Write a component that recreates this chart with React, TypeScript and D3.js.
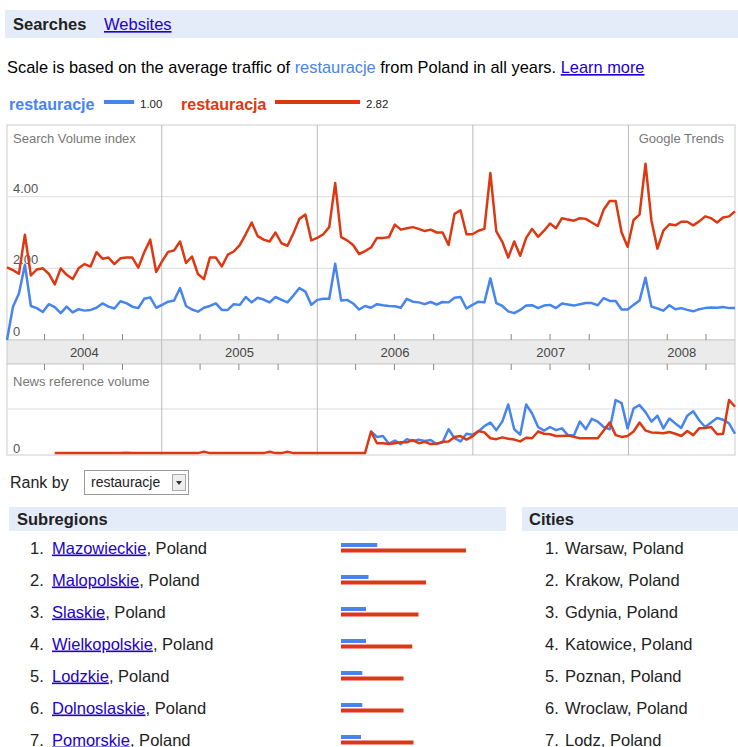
import React from "react";
import * as d3 from "d3";

// two-week samples, first one on 2004-01-04
const START = new Date(2004, 0, 4);
const END = new Date(2008, 8, 7);
const STEP_DAYS = 14;

const years = [2004, 2005, 2006, 2007, 2008];
const searchTicks = [0, 2, 4];
const searchTickLabels = ["0", "2.00", "4.00"];

// Search Volume index
const restauracjaSearch = [
  2.03, 1.95, 1.85, 2.94, 1.8, 1.97, 2.0, 1.85, 1.55, 2.0, 1.82, 1.7, 2.0, 2.12, 2.05, 2.45,
  2.27, 2.3, 2.12, 2.28, 2.3, 2.3, 2.02, 2.45, 2.8, 1.9, 2.2, 2.46, 2.5, 2.75, 2.15, 2.33,
  1.84, 1.7, 2.3, 2.3, 2.05, 2.38, 2.47, 2.65, 2.95, 3.28, 2.9, 2.8, 2.75, 3.0, 2.7, 2.63,
  2.98, 3.38, 3.5, 2.78, 2.85, 2.95, 3.15, 4.38, 2.87, 2.78, 2.65, 2.4, 2.48, 2.58, 2.85, 2.85,
  2.87, 3.22, 3.08, 3.12, 3.15, 3.1, 3.04, 3.08, 3.0, 3.0, 2.65, 3.52, 3.62, 2.95, 2.95, 3.05,
  3.1, 4.66, 3.03, 2.74, 2.3, 2.75, 2.35, 2.85, 3.1, 2.88, 3.05, 3.25, 3.12, 3.4, 3.36, 3.33,
  3.4, 3.38, 3.28, 3.18, 3.64, 3.88, 3.88, 3.0, 2.6, 3.35, 3.5, 4.92, 3.33, 2.55, 3.05, 3.23,
  3.2, 3.3, 3.3, 3.2, 3.31, 3.45, 3.4, 3.28, 3.42, 3.45, 3.59,
];
const restauracjeSearch = [
  0, 0.93, 1.3, 2.1, 0.95, 0.89, 0.78, 1.0, 0.92, 0.75, 0.93, 0.77, 0.86, 0.82, 0.84, 0.9,
  1.02, 0.93, 0.88, 1.08, 1.03, 0.93, 0.89, 1.15, 1.19, 0.9, 0.98, 1.07, 1.1, 1.45, 0.95, 0.85,
  0.79, 0.9, 0.95, 1.02, 0.84, 0.84, 1.0, 0.98, 1.2, 1.05, 1.18, 1.13, 1.05, 1.2, 1.12, 1.05,
  1.24, 1.45, 1.35, 0.98, 1.12, 1.15, 1.15, 2.13, 1.1, 1.12, 1.02, 0.85, 0.95, 0.9, 1.0, 0.97,
  0.95, 0.94, 0.9, 1.15, 1.07, 1.05, 1.0, 1.06, 0.99, 1.06, 1.05, 1.18, 1.2, 0.88, 0.98, 1.07,
  1.05, 1.72, 1.03, 0.95, 0.8, 0.75, 0.84, 0.96, 0.97, 0.89, 0.96, 0.98, 0.89, 1.02, 0.99, 0.96,
  1.0, 1.03, 1.03, 0.97, 1.17, 1.09, 1.09, 0.85, 0.85, 0.98, 1.1, 1.74, 0.93, 0.88, 0.82, 0.97,
  0.86, 0.89, 0.84, 0.8, 0.86, 0.89, 0.91, 0.9, 0.92, 0.89, 0.89,
];

// News reference volume (relative), series start at these sample indices
const NEWS_RED_FROM = 8;
const NEWS_BLUE_FROM = 61;
const restauracjaNews = [
  0.02, 0.02, 0.02, 0.02, 0.02, 0.02, 0.02, 0.02, 0.02, 0.02, 0.02, 0.02, 0.03, 0.02, 0.02, 0.02,
  0.02, 0.02, 0.02, 0.02, 0.02, 0.02, 0.02, 0.02, 0.02, 0.05, 0.02, 0.02, 0.02, 0.02, 0.02, 0.02,
  0.02, 0.02, 0.02, 0.02, 0.05, 0.02, 0.02, 0.05, 0.02, 0.02, 0.02, 0.02, 0.02, 0.02, 0.02, 0.02,
  0.02, 0.02, 0.02, 0.02, 0.02,
  0.5, 0.24, 0.24, 0.22, 0.24, 0.26, 0.26, 0.31, 0.24, 0.27, 0.22, 0.23, 0.27, 0.28, 0.38, 0.4,
  0.32, 0.39, 0.51, 0.48, 0.35, 0.33, 0.37, 0.34, 0.32, 0.28, 0.36, 0.35, 0.5, 0.45, 0.44, 0.4,
  0.4, 0.41, 0.38, 0.35, 0.35, 0.35, 0.35, 0.52, 0.7, 0.42, 0.38, 0.4, 0.5, 0.7, 0.52, 0.48,
  0.47, 0.46, 0.49, 0.45, 0.4, 0.51, 0.42, 0.57, 0.58, 0.6, 0.44, 0.45, 1.2, 1.05,
];
const restauracjeNews = [
  0.5, 0.38, 0.4, 0.23, 0.3, 0.22, 0.33, 0.29, 0.32, 0.29, 0.31, 0.22, 0.26, 0.55, 0.35, 0.28,
  0.45, 0.43, 0.5, 0.62, 0.7, 0.53, 0.72, 1.1, 0.55, 0.43, 1.1, 0.9, 0.6, 0.52, 0.6, 0.53,
  0.57, 0.42, 0.41, 0.72, 0.55, 0.78, 0.72, 0.6, 0.55, 1.2, 1.13, 0.57, 1.01, 1.09, 0.93, 0.72,
  0.85, 0.57, 0.79, 0.68, 0.58, 0.85, 0.95, 0.75, 0.6, 0.7, 0.8, 0.76, 0.68, 0.45,
];

const subregions = ["Mazowieckie", "Malopolskie", "Slaskie", "Wielkopolskie", "Lodzkie", "Dolnoslaskie", "Pomorskie"];
const subregionRestauracje = [29, 22, 20, 20, 17, 17, 16];
const subregionRestauracja = [100, 68, 62, 57, 50, 50, 58];
const cities = ["Warsaw", "Krakow", "Gdynia", "Katowice", "Poznan", "Wroclaw", "Lodz"];

const BLUE = "#4684ee";
const RED = "#dc3912";
const LINK = "#2200cc";
const FONT = "'Liberation Sans', Arial, Helvetica, sans-serif";

export default function App() {
  const W = 738, H = 747;
  const left = 7, right = 735;
  const plotTop = 125, plotBottom = 340, barBottom = 364, newsBottom = 455;

  const x = d3.scaleTime().domain([START, END]).range([left, right]);
  const dateAt = (i: number) => d3.timeDay.offset(START, i * STEP_DAYS);
  const y = d3.scaleLinear().domain([0, 6]).range([plotBottom, plotTop]);
  const yNews = d3.scaleLinear().domain([0, 2]).range([454, barBottom]);

  const searchLine = d3.line<number>().x((_, i) => x(dateAt(i))).y((d) => y(d));
  const newsLine = (from: number) =>
    d3.line<number>().x((_, i) => x(dateAt(i + from))).y((d) => yNews(d));

  const yearStarts = years.slice(1).map((yr) => new Date(yr, 0, 1));
  const quarterTicks = d3.timeMonth.every(3)!.range(START, END).filter((d) => d.getMonth() !== 0);

  const legendScale = d3.scaleLinear().domain([0, 2.82]).range([0, 85]);
  const barScale = d3.scaleLinear().domain([0, 100]).range([0, 125]);
  const rowY = d3.scaleLinear().domain([0, 6]).range([548, 740]);

  return (
    <svg width={W} height={H} style={{ position: "absolute", left: 0, top: 0, background: "#fff" }} fontFamily={FONT}>
      {/* tabs bar */}
      <rect x={5} y={10} width={733} height={28} fill="#e5ecf9" />
      <text x={13} y={30} fontSize={16.5} fontWeight="bold" fill="#222">Searches</text>
      <text x={104} y={30} fontSize={16.5} fill={LINK} textDecoration="underline">Websites</text>

      <text x={7} y={73} fontSize={16.4} fill="#000">
        Scale is based on the average traffic of <tspan fill={BLUE}>restauracje</tspan> from Poland in all years.{" "}
        <tspan fill={LINK} textDecoration="underline">Learn more</tspan>
      </text>

      {/* legend */}
      <text x={9} y={110} fontSize={16} fontWeight="bold" fill={BLUE}>restauracje</text>
      <rect x={104} y={100} width={legendScale(1.0)} height={4} fill={BLUE} />
      <text x={140} y={108} fontSize={11.5} fill="#222">1.00</text>
      <text x={181} y={110} fontSize={16} fontWeight="bold" fill={RED}>restauracja</text>
      <rect x={275} y={100} width={legendScale(2.82)} height={4} fill={RED} />
      <text x={366} y={108} fontSize={11.5} fill="#222">2.82</text>

      {/* main chart frame */}
      <rect x={left} y={plotTop} width={right - left} height={plotBottom - plotTop} fill="#fff" stroke="#ccc" />
      {searchTicks.slice(1).map((t) => (
        <line key={t} x1={left} x2={right} y1={y(t)} y2={y(t)} stroke="#ddd" />
      ))}
      {searchTicks.map((t, i) => (
        <text key={t} x={13} y={y(t) - 4} fontSize={13} fill="#555">{searchTickLabels[i]}</text>
      ))}
      <text x={13} y={143} fontSize={13} fill="#777">Search Volume index</text>
      <text x={724} y={143} fontSize={13} fill="#777" textAnchor="end">Google Trends</text>

      {/* year bar */}
      <rect x={left} y={plotBottom} width={right - left} height={barBottom - plotBottom} fill="#ebebeb" stroke="#ccc" />
      {years.map((yr) => {
        const a = Math.max(x(new Date(yr, 0, 1)), left);
        const b = Math.min(x(new Date(yr + 1, 0, 1)), right);
        return (
          <text key={yr} x={(a + b) / 2} y={357} fontSize={13} fill="#444" textAnchor="middle">{yr}</text>
        );
      })}

      {/* news chart frame */}
      <rect x={left} y={barBottom} width={right - left} height={newsBottom - barBottom} fill="#fff" stroke="#ccc" />
      <line x1={left} x2={right} y1={yNews(1)} y2={yNews(1)} stroke="#ddd" />
      <text x={13} y={386} fontSize={13} fill="#777">News reference volume</text>
      <text x={13} y={453} fontSize={13} fill="#555">0</text>

      {/* dividers and ticks */}
      {yearStarts.map((d, i) => (
        <line key={i} x1={x(d)} x2={x(d)} y1={plotTop} y2={newsBottom} stroke="#bbb" />
      ))}
      {quarterTicks.map((d, i) => (
        <g key={i} stroke="#888">
          <line x1={x(d)} x2={x(d)} y1={plotBottom - 6} y2={plotBottom} />
          <line x1={x(d)} x2={x(d)} y1={barBottom} y2={barBottom + 6} />
        </g>
      ))}

      {/* series */}
      <g fill="none" strokeWidth={2.5} strokeLinejoin="round">
        <path d={searchLine(restauracjaSearch) ?? ""} stroke={RED} />
        <path d={searchLine(restauracjeSearch) ?? ""} stroke={BLUE} />
        <path d={newsLine(NEWS_BLUE_FROM)(restauracjeNews) ?? ""} stroke={BLUE} />
        <path d={newsLine(NEWS_RED_FROM)(restauracjaNews) ?? ""} stroke={RED} />
      </g>

      {/* rank by */}
      <text x={10} y={488} fontSize={16} fill="#222">Rank by</text>
      <rect x={84.5} y={470.5} width={104} height={24} fill="#fff" stroke="#999" />
      <text x={91} y={487} fontSize={14} fill="#222">restauracje</text>
      <rect x={172.5} y={474.5} width={13} height={16} fill="#eee" stroke="#aaa" />
      <path d="M176,481 L182,481 L179,485 Z" fill="#333" />

      {/* tables */}
      <rect x={9} y={507} width={497} height={24} fill="#e5ecf9" />
      <text x={17} y={525} fontSize={16.5} fontWeight="bold" fill="#222">Subregions</text>
      <rect x={522} y={507} width={216} height={24} fill="#e5ecf9" />
      <text x={529} y={525} fontSize={16.5} fontWeight="bold" fill="#222">Cities</text>

      {subregions.map((name, i) => (
        <g key={name}>
          <text x={30} y={rowY(i) + 5.5} fontSize={16.5} fill="#222">{i + 1}.</text>
          <text x={52} y={rowY(i) + 5.5} fontSize={16.5} fill="#222">
            <tspan fill={LINK} textDecoration="underline">{name}</tspan>, Poland
          </text>
          <rect x={341} y={rowY(i) - 5} width={barScale(subregionRestauracje[i])} height={4} fill={BLUE} />
          <rect x={341} y={rowY(i) + 0.5} width={barScale(subregionRestauracja[i])} height={4} fill={RED} />
        </g>
      ))}
      {cities.map((name, i) => (
        <g key={name}>
          <text x={545} y={rowY(i) + 5.5} fontSize={16.5} fill="#222">{i + 1}.</text>
          <text x={565} y={rowY(i) + 5.5} fontSize={16.5} fill="#222">{name}, Poland</text>
        </g>
      ))}
    </svg>
  );
}
